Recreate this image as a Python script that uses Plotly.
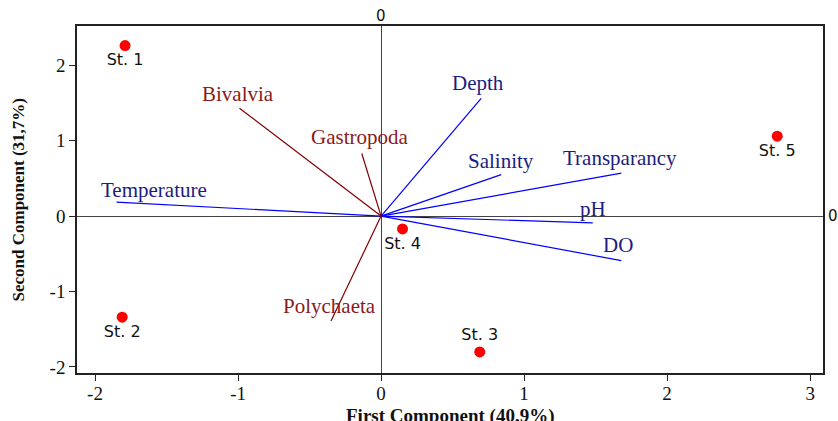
import plotly.graph_objects as go

# Station scores
stations = ["St. 1", "St. 2", "St. 3", "St. 4", "St. 5"]
st_pc1 = [-1.79, -1.81, 0.69, 0.15, 2.77]
st_pc2 = [2.26, -1.34, -1.80, -0.17, 1.06]
st_label_pos = ["bottom center", "bottom center", "top center", "bottom center", "bottom center"]

# Environmental variable loadings
env_vars = ["Depth", "Salinity", "Transparancy", "pH", "DO", "Temperature"]
env_pc1 = [0.70, 0.84, 1.68, 1.48, 1.68, -1.85]
env_pc2 = [1.56, 0.55, 0.57, -0.09, -0.59, 0.185]

# Biota loadings
bio_vars = ["Bivalvia", "Gastropoda", "Polychaeta"]
bio_pc1 = [-0.99, -0.135, -0.35]
bio_pc2 = [1.43, 0.83, -1.39]

# Label offsets (text placement relative to vector end)
env_lab_dx = [-0.02, 0.0, -0.01, 0.0, -0.02, 0.26]
env_lab_dy = [0.21, 0.18, 0.20, 0.19, 0.21, 0.155]
bio_lab_dx = [-0.01, -0.015, -0.01]
bio_lab_dy = [0.19, 0.22, 0.20]

x_ticks = [-2, -1, 0, 1, 2, 3]
x_tick_text = ["-2", "-1", "0", "1", "2", "3"]
y_ticks = [-2, -1, 0, 1, 2]
y_tick_text = ["-2", "-1", "0", "1", "2"]

ENV_LINE = "#0000ff"
ENV_TEXT = "#1c1c80"
BIO_LINE = "#800000"
BIO_TEXT = "#8b1a1a"
SERIF = "Liberation Serif"

fig = go.Figure()

for name, vx, vy in zip(env_vars, env_pc1, env_pc2):
    fig.add_trace(go.Scatter(x=[0, vx], y=[0, vy], mode="lines",
                             line=dict(color=ENV_LINE, width=1.2),
                             hoverinfo="skip", showlegend=False, name=name))
for name, vx, vy in zip(bio_vars, bio_pc1, bio_pc2):
    fig.add_trace(go.Scatter(x=[0, vx], y=[0, vy], mode="lines",
                             line=dict(color=BIO_LINE, width=1.2),
                             hoverinfo="skip", showlegend=False, name=name))

fig.add_trace(go.Scatter(x=st_pc1, y=st_pc2, mode="markers+text",
                         text=stations, textposition=st_label_pos,
                         textfont=dict(family="DejaVu Sans", size=16, color="#111111"),
                         marker=dict(color="#ff0000", size=11),
                         showlegend=False))

for name, vx, vy, dx, dy in zip(env_vars, env_pc1, env_pc2, env_lab_dx, env_lab_dy):
    fig.add_annotation(x=vx + dx, y=vy + dy, text=name, showarrow=False,
                       font=dict(family=SERIF, size=21, color=ENV_TEXT))
for name, vx, vy, dx, dy in zip(bio_vars, bio_pc1, bio_pc2, bio_lab_dx, bio_lab_dy):
    fig.add_annotation(x=vx + dx, y=vy + dy, text=name, showarrow=False,
                       font=dict(family=SERIF, size=21, color=BIO_TEXT))

# reference line labels
fig.add_annotation(x=0, y=1, xref="x", yref="paper", text="0", showarrow=False,
                   yanchor="bottom", yshift=-1,
                   font=dict(family="DejaVu Sans", size=15, color="#111111"))
fig.add_annotation(x=1, y=0, xref="paper", yref="y", text="0", showarrow=False,
                   xanchor="left", xshift=3,
                   font=dict(family="DejaVu Sans", size=15, color="#111111"))

# axis titles
fig.add_annotation(x=0.5, y=0, xref="paper", yref="paper", text="<b>First Component (40,9%)</b>",
                   showarrow=False, yanchor="top", yshift=-30,
                   font=dict(family=SERIF, size=19, color="#111111"))
fig.add_annotation(x=0, y=0.5, xref="paper", yref="paper", text="<b>Second Component (31,7%)</b>",
                   showarrow=False, textangle=-90, xanchor="center", xshift=-59,
                   font=dict(family=SERIF, size=17, color="#111111"))

fig.update_xaxes(range=[-2.126, 3.09], tickvals=x_ticks, ticktext=x_tick_text,
                 ticks="outside", ticklen=6, ticklabelstandoff=-4,
                 tickcolor="#222", showline=True, linecolor="#222", linewidth=1.5,
                 mirror=True, showgrid=False, zeroline=True, zerolinecolor="#444",
                 zerolinewidth=1, tickfont=dict(family=SERIF, size=19, color="#111"),
                 automargin=False)
fig.update_yaxes(range=[-2.08, 2.52], tickvals=y_ticks, ticktext=y_tick_text,
                 ticks="outside", ticklen=6,
                 tickcolor="#222", showline=True, linecolor="#222", linewidth=1.5,
                 mirror=True, showgrid=False, zeroline=True, zerolinecolor="#444",
                 zerolinewidth=1, tickfont=dict(family=SERIF, size=19, color="#111"),
                 automargin=False)

fig.update_layout(width=838, height=421, margin=dict(l=77, r=15, t=26, b=48),
                  paper_bgcolor="white", plot_bgcolor="white")

fig.write_html("out.html", config={"displayModeBar": False},
               post_script="document.body.style.margin='0';")
